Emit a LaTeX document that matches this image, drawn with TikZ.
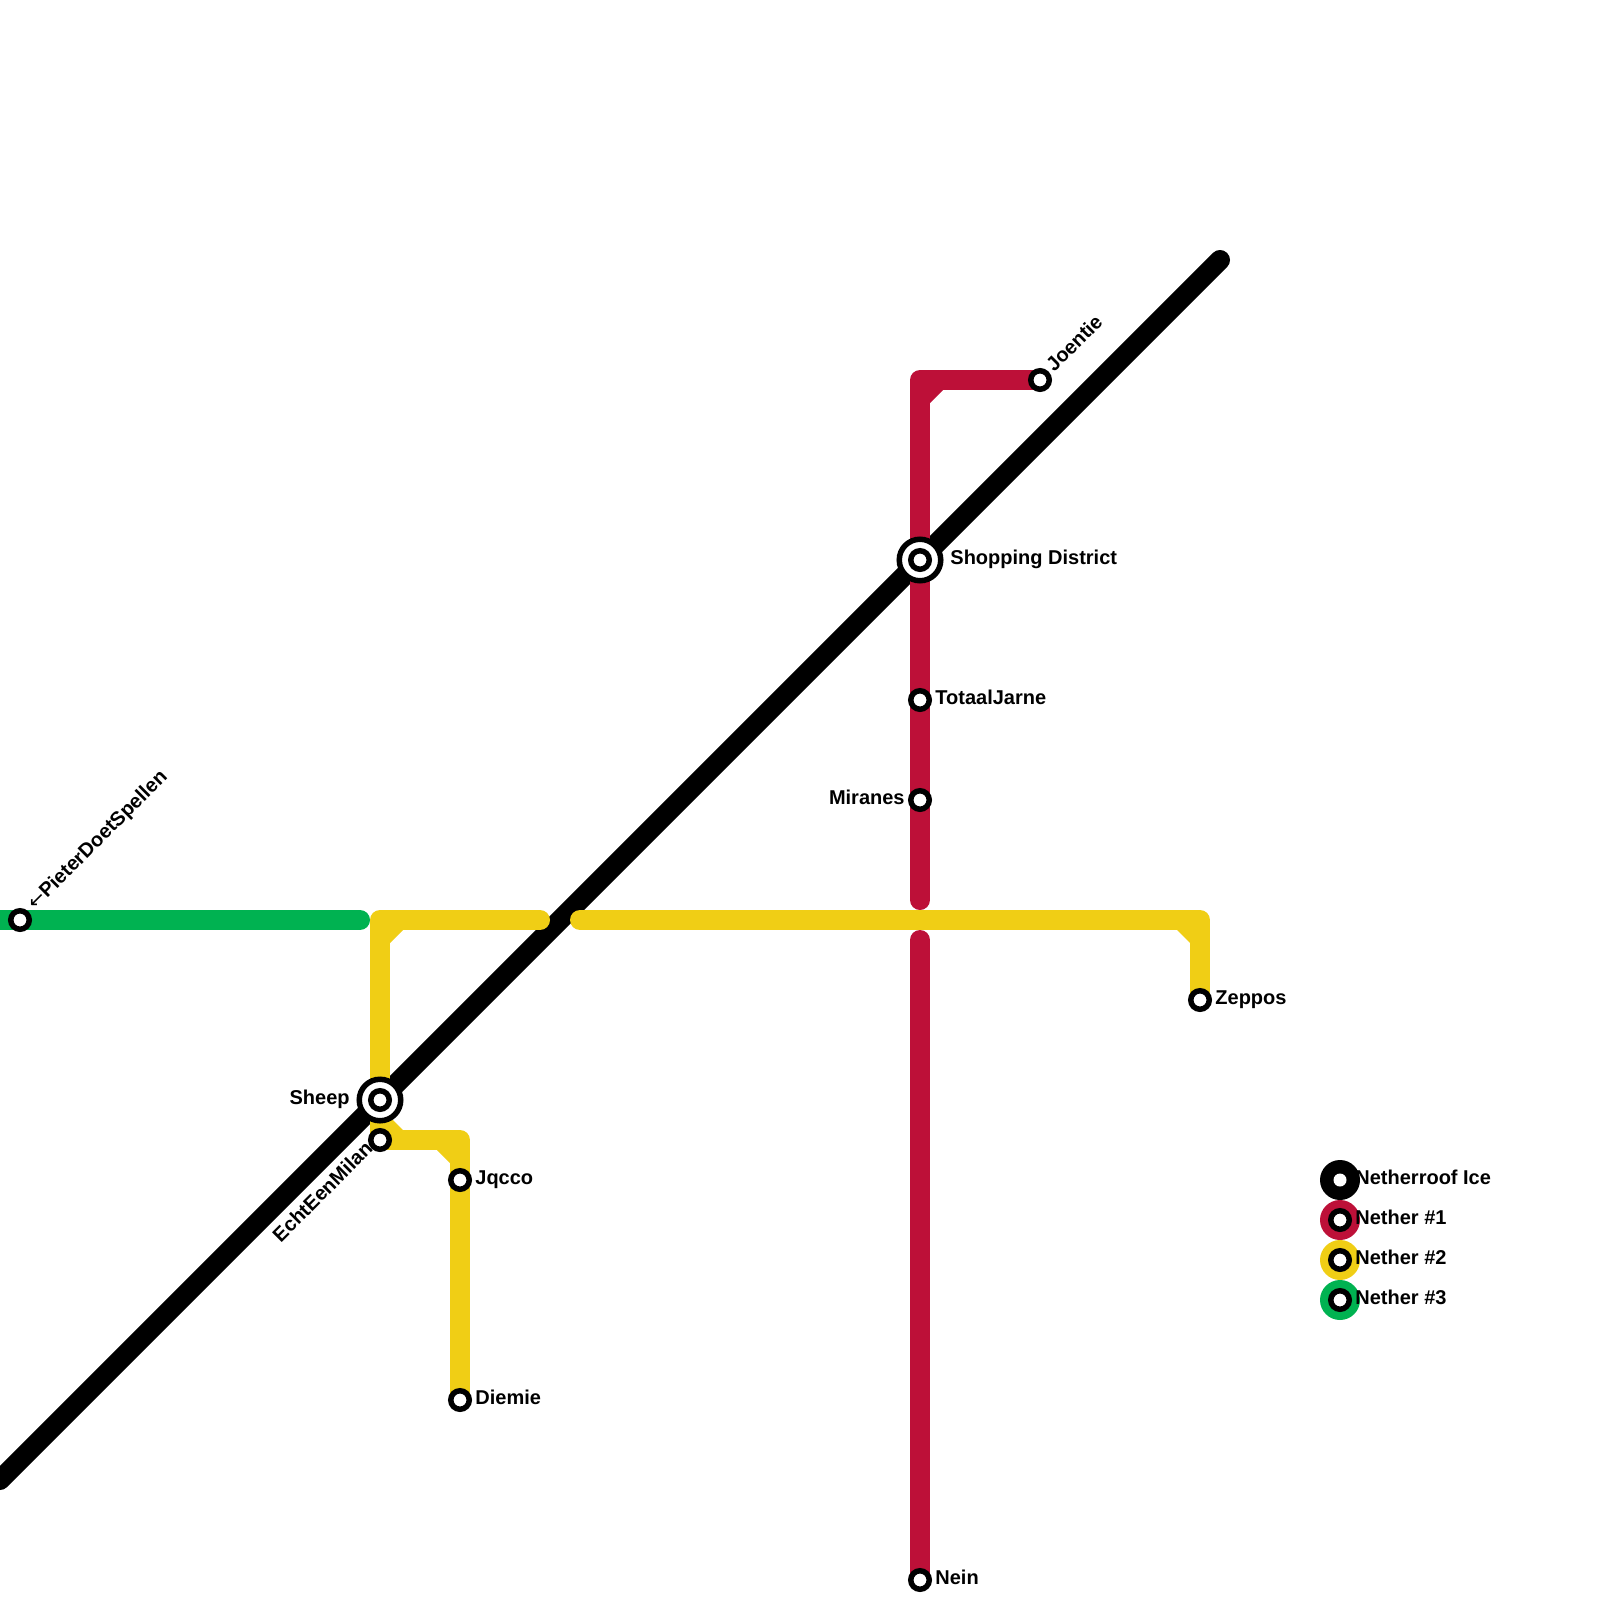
\documentclass[tikz,border=0pt]{standalone}
\usepackage{fontspec}
\setmainfont{Liberation Sans}
\newfontfamily\arrowfont{DejaVu Sans}
\definecolor{nred}{HTML}{BD1038}
\definecolor{nyellow}{HTML}{F0CE15}
\definecolor{ngreen}{HTML}{00B251}
\tikzset{
  metro/.style={line width=10pt,line join=round,line cap=round},
  stnsmall/.style={circle,fill=white,draw=black,line width=2.75pt,inner sep=0pt,minimum size=9.25pt},
  hubouter/.style={circle,fill=white,draw=black,line width=2.75pt,inner sep=0pt,minimum size=20.75pt},
  legdisc/.style={circle,inner sep=0pt,minimum size=20pt},
  lab/.style={font=\fontsize{10}{12}\selectfont\bfseries,text=black,inner sep=0pt},
}
\begin{document}
\begin{tikzpicture}[x=0.5pt,y=-0.5pt]
\useasboundingbox (0,0) rectangle (1600,1600);
% route points
\coordinate (blackA) at (0,1480);
\coordinate (blackB) at (1220,260);
\coordinate (sheep) at (380,1100);
\coordinate (shop) at (920,560);
\coordinate (milan) at (380,1140);
\coordinate (jqcco) at (460,1180);
\coordinate (diemie) at (460,1400);
\coordinate (zeppos) at (1200,1000);
\coordinate (joentie) at (1040,380);
\coordinate (totaal) at (920,700);
\coordinate (miranes) at (920,800);
\coordinate (nein) at (920,1580);
\coordinate (pieter) at (20,920);
\coordinate (greenA) at (0,920);
\coordinate (greenB) at (360,920);
\coordinate (redCorner) at (920,380);
\coordinate (redGapA) at (920,900);
\coordinate (redGapB) at (920,940);
\coordinate (yelCornerA) at (380,920);
\coordinate (yelGapA) at (540,920);
\coordinate (yelGapB) at (580,920);
\coordinate (yelCornerB) at (1200,920);
\coordinate (yelCornerC) at (460,1140);
% black
\draw[metro,black] (blackA) -- (blackB);
% green
\draw[metro,ngreen] (greenA) -- (greenB);
% red
\draw[metro,nred] (joentie) -- (redCorner) -- (redGapA);
\fill[nred] (930,390) -- (943,390) -- (930,403) -- cycle;
\draw[metro,nred] (redGapB) -- (nein);
% yellow
\draw[metro,nyellow] (sheep) -- (yelCornerA) -- (yelGapA);
\fill[nyellow] (390,930) -- (403,930) -- (390,943) -- cycle;
\draw[metro,nyellow] (yelGapB) -- (yelCornerB) -- (zeppos);
\fill[nyellow] (1190,930) -- (1177,930) -- (1190,943) -- cycle;
\draw[metro,nyellow] (sheep) -- (milan) -- (yelCornerC) -- (diemie);
\fill[nyellow] (390,1130) -- (390,1117) -- (403,1130) -- cycle;
\fill[nyellow] (450,1150) -- (437,1150) -- (450,1163) -- cycle;
% stations
\node[hubouter] (sheepO) at (sheep) {};
\node[stnsmall] (sheepI) at (sheep) {};
\node[hubouter] (shopO) at (shop) {};
\node[stnsmall] (shopI) at (shop) {};
\node[stnsmall] (milanS) at (milan) {};
\node[stnsmall] (jqccoS) at (jqcco) {};
\node[stnsmall] (diemieS) at (diemie) {};
\node[stnsmall] (zepposS) at (zeppos) {};
\node[stnsmall] (joentieS) at (joentie) {};
\node[stnsmall] (totaalS) at (totaal) {};
\node[stnsmall] (miranesS) at (miranes) {};
\node[stnsmall] (neinS) at (nein) {};
\node[stnsmall] (pieterS) at (pieter) {};
% labels
\node[lab,anchor=base west] (shopL) at (950,564) {Shopping District};
\node[lab,anchor=base west] (totaalL) at (935,704) {TotaalJarne};
\node[lab,anchor=base east] (miranesL) at (905,804) {Miranes};
\node[lab,anchor=base west] (neinL) at (935,1584) {Nein};
\node[lab,anchor=base west] (zepposL) at (1215,1004) {Zeppos};
\node[lab,anchor=base west] (jqccoL) at (475,1184) {Jqcco};
\node[lab,anchor=base west] (diemieL) at (475,1404) {Diemie};
\node[lab,anchor=base east] (sheepL) at (350,1104) {Sheep};
\node[lab,anchor=base west,rotate=45] (joentieL) at (1054,373) {Joentie};
\node[lab,anchor=base west,rotate=45] (pieterL) at (35,911) {{\arrowfont\mdseries ←}PieterDoetSpellen};
\node[lab,anchor=base east,rotate=45] (milanL) at (374,1150) {EchtEenMilan};
% legend
\node[legdisc,fill=black] (leg0) at (1340,1180) {};
\node[circle,fill=white,inner sep=0pt,minimum size=6.5pt] (leg0i) at (leg0) {};
\node[legdisc,fill=nred] (leg1) at (1340,1220) {};
\node[stnsmall] (leg1i) at (leg1) {};
\node[legdisc,fill=nyellow] (leg2) at (1340,1260) {};
\node[stnsmall] (leg2i) at (leg2) {};
\node[legdisc,fill=ngreen] (leg3) at (1340,1300) {};
\node[stnsmall] (leg3i) at (leg3) {};
\node[lab,anchor=base west] (leg0L) at (1355,1184) {Netherroof Ice};
\node[lab,anchor=base west] (leg1L) at (1355,1224) {Nether \#1};
\node[lab,anchor=base west] (leg2L) at (1355,1264) {Nether \#2};
\node[lab,anchor=base west] (leg3L) at (1355,1304) {Nether \#3};
\end{tikzpicture}
\end{document}
